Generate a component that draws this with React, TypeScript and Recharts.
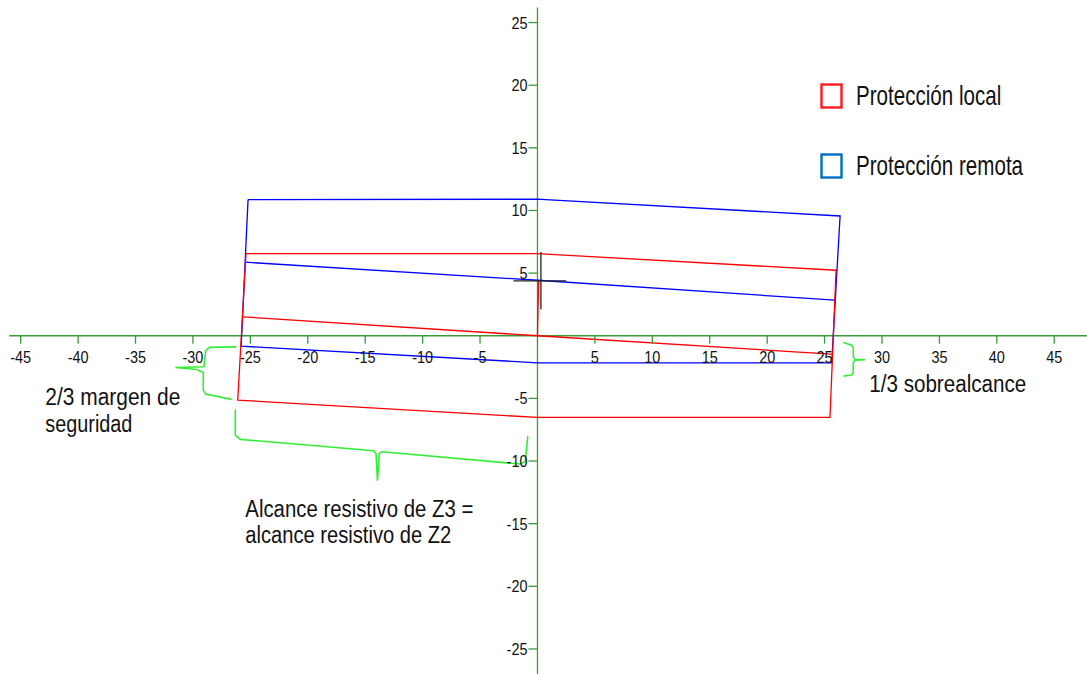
import React from "react";
import { ComposedChart, Line, XAxis, YAxis, ReferenceLine, ReferenceDot, Legend } from "recharts";

// ejes
const xTicks = [-45, -40, -35, -30, -25, -20, -15, -10, -5, 5, 10, 15, 20, 25, 30, 35, 40, 45];
const yTicks = [-25, -20, -15, -10, -5, 5, 10, 15, 20, 25];

// protección remota (azul)
const remotaOuter = [
  { x: -25.2, y: 10.87 },
  { x: 0, y: 10.9 },
  { x: 0.7, y: 10.87 },
  { x: 26.35, y: 9.56 },
  { x: 25.62, y: -2.16 },
  { x: 0, y: -2.16 },
  { x: -25.8, y: -0.83 },
  { x: -25.2, y: 10.87 },
];
const remotaMid = [
  { x: -25.44, y: 5.87 },
  { x: 0, y: 4.43 },
  { x: 25.91, y: 2.84 },
];

// protección local (rojo)
const localOuter = [
  { x: -25.38, y: 6.55 },
  { x: 0, y: 6.55 },
  { x: 26.0, y: 5.23 },
  { x: 25.47, y: -6.52 },
  { x: 0, y: -6.52 },
  { x: -26.1, y: -5.14 },
  { x: -25.38, y: 6.55 },
];
const localMid = [
  { x: -25.64, y: 1.51 },
  { x: 0, y: 0 },
  { x: 25.6, y: -1.47 },
];
const localStem = [
  { x: 0, y: 0 },
  { x: 0.1, y: 4.38 },
];

// cruz negra
const crossV = [
  { x: 0.3, y: 6.69 },
  { x: 0.3, y: 2.12 },
];
const crossH = [
  { x: -2.09, y: 4.38 },
  { x: 2.5, y: 4.38 },
];

// llaves verdes
const braceMargen = [
  { x: -26.25, y: -0.89 },
  { x: -28.58, y: -0.93 },
  { x: -28.89, y: -1.2 },
  { x: -29.04, y: -2.48 },
  { x: -31.53, y: -2.54 },
  { x: -29.67, y: -2.69 },
  { x: -29.1, y: -2.94 },
  { x: -29.1, y: -4.34 },
  { x: -28.89, y: -4.66 },
  { x: -26.62, y: -5.08 },
];
const braceAlcance = [
  { x: -26.31, y: -5.88 },
  { x: -26.31, y: -7.93 },
  { x: -25.87, y: -8.27 },
  { x: -14.27, y: -9.18 },
  { x: -14.06, y: -9.39 },
  { x: -13.93, y: -11.57 },
  { x: -13.78, y: -9.39 },
  { x: -13.54, y: -9.26 },
  { x: -1.51, y: -10.24 },
  { x: -1.07, y: -10.06 },
  { x: -0.84, y: -8.01 },
];
const braceSobre = [
  { x: 26.63, y: -0.53 },
  { x: 27.36, y: -0.75 },
  { x: 27.5, y: -1.01 },
  { x: 27.5, y: -1.68 },
  { x: 27.65, y: -1.87 },
  { x: 28.52, y: -1.91 },
  { x: 27.65, y: -1.95 },
  { x: 27.5, y: -2.13 },
  { x: 27.5, y: -2.88 },
  { x: 27.36, y: -3.14 },
  { x: 26.63, y: -3.22 },
];

// textos
const notes = [
  { text: "2/3  margen de", x: -42.85, y: -5.53 },
  { text: "seguridad", x: -42.85, y: -7.66 },
  { text: "Alcance resistivo de Z3 =", x: -25.44, y: -14.49 },
  { text: "alcance resistivo de Z2", x: -25.44, y: -16.52 },
  { text: "1/3  sobrealcance", x: 28.89, y: -4.52 },
];
const noteWidths: Record<string, number> = {
  "2/3  margen de": 135,
  seguridad: 87,
  "Alcance resistivo de Z3 =": 228,
  "alcance resistivo de Z2": 206,
  "1/3  sobrealcance": 157,
};

const legendItems = [
  { name: "Protección local", color: "#ff1a1a" },
  { name: "Protección remota", color: "#0070c0" },
];

const FONT = "'Liberation Sans', Arial, sans-serif";
const AXIS = "#3a9a3a";
const BRACE = "#33ee33";

function XTick({ cx, cy, value }: any) {
  return (
    <g>
      <line x1={cx} y1={cy} x2={cx} y2={cy + 8} stroke={AXIS} strokeWidth={1.3} />
      <text
        transform={`translate(${cx},${cy + 27}) scale(0.85,1)`}
        textAnchor="middle"
        fontFamily={FONT}
        fontSize={17}
        fill="#111"
      >
        {value}
      </text>
    </g>
  );
}

function YTick({ cx, cy, value }: any) {
  return (
    <g>
      <line x1={cx - 9} y1={cy} x2={cx} y2={cy} stroke={AXIS} strokeWidth={1.3} />
      <text
        transform={`translate(${cx - 10},${cy + 6}) scale(0.85,1)`}
        textAnchor="end"
        fontFamily={FONT}
        fontSize={17}
        fill="#111"
      >
        {value}
      </text>
    </g>
  );
}

function Note({ cx, cy, text }: any) {
  return (
    <text
      x={cx}
      y={cy}
      fontFamily={FONT}
      fontSize={23}
      fill="#111"
      textLength={noteWidths[text]}
      lengthAdjust="spacingAndGlyphs"
    >
      {text}
    </text>
  );
}

function LegendBox() {
  return (
    <svg width={262} height={118}>
      {legendItems.map((it, i) => (
        <g key={it.name} transform={`translate(0,${6 + i * 70})`}>
          <rect x={1.5} y={1.5} width={20} height={23} fill="none" stroke={it.color} strokeWidth={2.4} />
          <text
            transform="translate(36,22) scale(0.763,1)"
            fontFamily={FONT}
            fontSize={27}
            fill="#111"
          >
            {it.name}
          </text>
        </g>
      ))}
    </svg>
  );
}

const lineProps = {
  type: "linear" as const,
  dataKey: "y",
  dot: false,
  activeDot: false,
  isAnimationActive: false,
  strokeWidth: 1.3,
  legendType: "none" as const,
};

export default function App() {
  return (
    <div style={{ position: "absolute", left: 0, top: 0, width: 1087, height: 674, background: "#fff" }}>
      <ComposedChart width={1087} height={674} margin={{ top: 0, right: 0, bottom: 0, left: 0 }}>
        <XAxis type="number" dataKey="x" domain={[-46.8, 47.85]} allowDataOverflow hide />
        <YAxis type="number" dataKey="y" domain={[-27, 26.8]} allowDataOverflow hide />
        <ReferenceLine segment={[{ x: -46, y: 0 }, { x: 47.85, y: 0 }]} stroke={AXIS} strokeWidth={1.3} />
        <ReferenceLine segment={[{ x: 0, y: 26.2 }, { x: 0, y: -27 }]} stroke={AXIS} strokeWidth={1.3} />
        {xTicks.map((t) => (
          <ReferenceDot key={"x" + t} x={t} y={0} r={0} shape={(p: any) => <XTick cx={p.cx} cy={p.cy} value={t} />} />
        ))}
        {yTicks.map((t) => (
          <ReferenceDot key={"y" + t} x={0} y={t} r={0} shape={(p: any) => <YTick cx={p.cx} cy={p.cy} value={t} />} />
        ))}

        <Line {...lineProps} data={remotaOuter} stroke="#0000ff" />
        <Line {...lineProps} data={remotaMid} stroke="#0000ff" />
        <Line {...lineProps} data={localOuter} stroke="#ff0000" />
        <Line {...lineProps} data={localMid} stroke="#ff0000" />
        <Line {...lineProps} data={localStem} stroke="#ff0000" />
        <Line {...lineProps} data={crossV} stroke="#222" />
        <Line {...lineProps} data={crossH} stroke="#222" />
        <Line {...lineProps} data={braceMargen} stroke={BRACE} strokeWidth={1.6} />
        <Line {...lineProps} data={braceAlcance} stroke={BRACE} strokeWidth={1.6} />
        <Line {...lineProps} data={braceSobre} stroke={BRACE} strokeWidth={1.6} />

        {notes.map((n) => (
          <ReferenceDot
            key={n.text}
            x={n.x}
            y={n.y}
            r={0}
            shape={(p: any) => <Note cx={p.cx} cy={p.cy} text={n.text} />}
          />
        ))}

        <Legend
          layout="horizontal"
          verticalAlign="middle"
          align="center"
          content={() => <LegendBox />}
          wrapperStyle={{ left: 820, top: 77, width: 262, height: 118 }}
        />
      </ComposedChart>
    </div>
  );
}
